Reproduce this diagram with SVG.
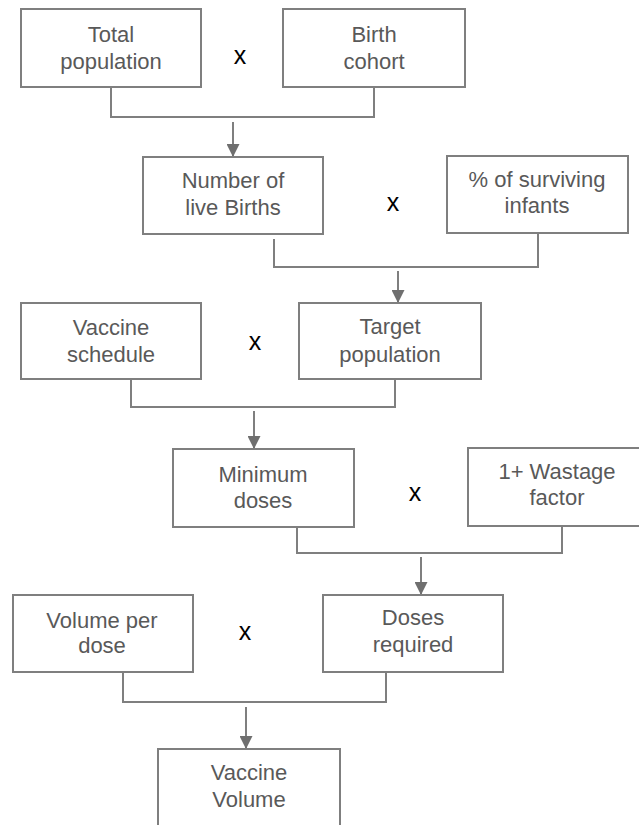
<svg xmlns="http://www.w3.org/2000/svg" width="639" height="825" viewBox="0 0 639 825">
<style>
.box{fill:#fff;stroke:#7f7f7f;stroke-width:2}
.t{font-family:"Liberation Sans",Arial,sans-serif;font-size:22px;fill:#595959;text-anchor:middle}
.x{font-family:"Liberation Sans",Arial,sans-serif;font-size:25px;fill:#000;text-anchor:middle}
.c{fill:none;stroke:#7f7f7f;stroke-width:2}
</style>
<defs>
<marker id="ah" viewBox="0 0 10 10" refX="10" refY="5" markerWidth="6.5" markerHeight="6.5" markerUnits="strokeWidth" orient="auto">
<path d="M0,0 L10,5 L0,10 z" fill="#6f6f6f"/>
</marker>
</defs>
<rect width="639" height="825" fill="#fff"/>
<g id="connectors">
<path class="c" d="M111,87 V117 H374 V87"/>
<path class="c" d="M233,122 V157" marker-end="url(#ah)"/>
<path class="c" d="M274,239 V267 H538 V233"/>
<path class="c" d="M398,271 V303" marker-end="url(#ah)"/>
<path class="c" d="M131,379 V407 H395 V379"/>
<path class="c" d="M254,411 V449" marker-end="url(#ah)"/>
<path class="c" d="M297,527 V553 H562 V526"/>
<path class="c" d="M421,557 V595" marker-end="url(#ah)"/>
<path class="c" d="M123,672 V702 H386 V672"/>
<path class="c" d="M246,707 V749" marker-end="url(#ah)"/>
</g>
<g id="total-population"><rect class="box" x="21" y="9" width="180" height="78"/><text class="t" x="111" y="42">Total</text><text class="t" x="111" y="69">population</text></g>
<g id="x1"><text class="x" x="240" y="64">x</text></g>
<g id="birth-cohort"><rect class="box" x="283" y="9" width="182" height="78"/><text class="t" x="374" y="42">Birth</text><text class="t" x="374" y="69">cohort</text></g>
<g id="live-births"><rect class="box" x="143" y="157" width="180" height="77"/><text class="t" x="233" y="188">Number of</text><text class="t" x="233" y="215">live Births</text></g>
<g id="x2"><text class="x" x="393" y="211">x</text></g>
<g id="surviving-infants"><rect class="box" x="447" y="156" width="181" height="77"/><text class="t" x="537" y="187">% of surviving</text><text class="t" x="537" y="213">infants</text></g>
<g id="vaccine-schedule"><rect class="box" x="21" y="303" width="180" height="76"/><text class="t" x="111" y="335">Vaccine</text><text class="t" x="111" y="362">schedule</text></g>
<g id="x3"><text class="x" x="255" y="350">x</text></g>
<g id="target-population"><rect class="box" x="299" y="303" width="182" height="76"/><text class="t" x="390" y="334">Target</text><text class="t" x="390" y="362">population</text></g>
<g id="minimum-doses"><rect class="box" x="173" y="449" width="181" height="78"/><text class="t" x="263" y="482">Minimum</text><text class="t" x="263" y="508">doses</text></g>
<g id="x4"><text class="x" x="415" y="501">x</text></g>
<g id="wastage-factor"><rect class="box" x="468" y="448" width="182" height="78"/><text class="t" x="557" y="479">1+ Wastage</text><text class="t" x="557" y="505">factor</text></g>
<g id="volume-per-dose"><rect class="box" x="13" y="595" width="180" height="77"/><text class="t" x="102" y="628">Volume per</text><text class="t" x="102" y="653">dose</text></g>
<g id="x5"><text class="x" x="245" y="640">x</text></g>
<g id="doses-required"><rect class="box" x="323" y="595" width="180" height="77"/><text class="t" x="413" y="625">Doses</text><text class="t" x="413" y="652">required</text></g>
<g id="vaccine-volume"><rect class="box" x="158" y="749" width="182" height="80"/><text class="t" x="249" y="780">Vaccine</text><text class="t" x="249" y="807">Volume</text></g>
</svg>
